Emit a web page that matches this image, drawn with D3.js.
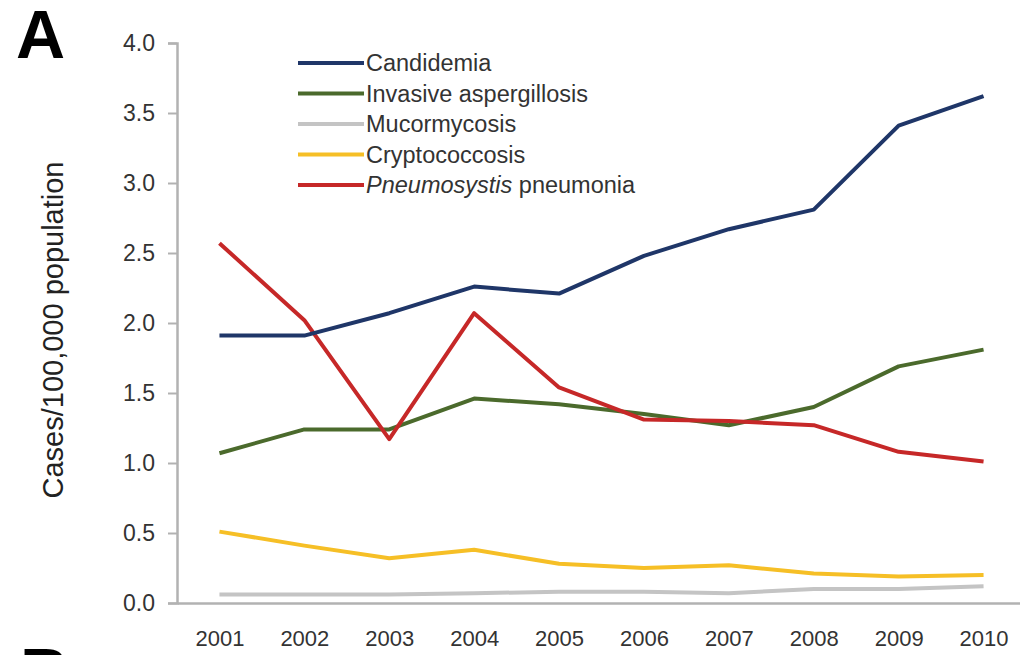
<!DOCTYPE html>
<html>
<head>
<meta charset="utf-8">
<script src="https://cdn.jsdelivr.net/npm/d3@7"></script>
<style>
  html, body { margin: 0; padding: 0; background: #fff; }
  svg { display: block; font-family: "Liberation Sans", Arial, sans-serif; }
</style>
</head>
<body>
<svg id="chart" width="1020" height="655"></svg>
<script>
// Annual incidence of fungal infections, cases per 100,000 population
const years = ["2001", "2002", "2003", "2004", "2005", "2006", "2007", "2008", "2009", "2010"];
const candidemia   = [1.91, 1.91, 2.07, 2.26, 2.21, 2.48, 2.67, 2.81, 3.41, 3.62];
const aspergillosis = [1.07, 1.24, 1.24, 1.46, 1.42, 1.35, 1.27, 1.40, 1.69, 1.81];
const mucormycosis = [0.06, 0.06, 0.06, 0.07, 0.08, 0.08, 0.07, 0.10, 0.10, 0.12];
const cryptococcosis = [0.51, 0.41, 0.32, 0.38, 0.28, 0.25, 0.27, 0.21, 0.19, 0.20];
const pneumocystis = [2.57, 2.02, 1.17, 2.07, 1.54, 1.31, 1.30, 1.27, 1.08, 1.01];
const yTicks = [0, 0.5, 1.0, 1.5, 2.0, 2.5, 3.0, 3.5, 4.0];

const series = [
  { name: "Candidemia", values: candidemia, color: "#1f3668" },
  { name: "Invasive aspergillosis", values: aspergillosis, color: "#4b6a2c" },
  { name: "Mucormycosis", values: mucormycosis, color: "#c4c4c4" },
  { name: "Cryptococcosis", values: cryptococcosis, color: "#f6bf26" },
  { name: "Pneumosystis pneumonia", values: pneumocystis, color: "#c62828", italic: "Pneumosystis" }
];

const svg = d3.select("#chart");
const plotLeft = 177, plotRight = 1026, plotTop = 43, plotBottom = 603;

const x = d3.scalePoint().domain(years).range([plotLeft, plotRight]).padding(0.5);
const y = d3.scaleLinear().domain([0, 4]).range([plotBottom, plotTop]);

const axisColor = "#b2b2b2";
const textColor = "#333";

// Y axis
const yAxis = svg.append("g")
  .attr("transform", `translate(${plotLeft},0)`)
  .call(d3.axisLeft(y).tickValues(yTicks).tickSize(9).tickPadding(13).tickFormat(d3.format(".1f")));
yAxis.select(".domain").attr("stroke", axisColor).attr("stroke-width", 2.5);
yAxis.selectAll(".tick line").attr("stroke", axisColor).attr("stroke-width", 2);
yAxis.selectAll(".tick text")
  .attr("fill", textColor).attr("font-size", 23).attr("font-family", "Liberation Sans, Arial, sans-serif");

// X axis
const xAxis = svg.append("g")
  .attr("transform", `translate(0,${plotBottom})`)
  .call(d3.axisBottom(x).tickSize(0).tickPadding(27));
xAxis.select(".domain").attr("stroke", axisColor).attr("stroke-width", 2.5);
xAxis.selectAll(".tick text")
  .attr("fill", textColor).attr("font-size", 22).attr("font-family", "Liberation Sans, Arial, sans-serif");

// Series lines
const line = d3.line()
  .x((d, i) => x(years[i]))
  .y(d => y(d));

// draw bottom-up so candidemia sits on top
[2, 3, 1, 4, 0].forEach(k => {
  const s = series[k];
  svg.append("path")
    .datum(s.values)
    .attr("fill", "none")
    .attr("stroke", s.color)
    .attr("stroke-width", 4)
    .attr("stroke-linejoin", "round")
    .attr("d", line);
});

// Legend
const legend = svg.append("g");
series.forEach((s, i) => {
  const ly = 63 + i * 30.5;
  legend.append("line")
    .attr("x1", 298).attr("x2", 364)
    .attr("y1", ly).attr("y2", ly)
    .attr("stroke", s.color).attr("stroke-width", 4);
  const t = legend.append("text")
    .attr("x", 366).attr("y", ly + 8)
    .attr("font-size", 23.5)
    .attr("fill", textColor);
  if (s.italic) {
    t.append("tspan").attr("font-style", "italic").text(s.italic);
    t.append("tspan").text(s.name.slice(s.italic.length));
  } else {
    t.text(s.name);
  }
});

// Y axis title
svg.append("text")
  .attr("transform", "translate(63,330) rotate(-90)")
  .attr("text-anchor", "middle")
  .attr("font-size", 29)
  .attr("fill", "#222")
  .text("Cases/100,000 population");

// Panel letters
svg.append("text")
  .attr("x", 16).attr("y", 58)
  .attr("font-size", 68).attr("font-weight", "bold")
  .attr("font-family", "Liberation Sans, Arial, sans-serif")
  .attr("fill", "#000")
  .text("A");
svg.append("text")
  .attr("x", 20).attr("y", 696)
  .attr("font-size", 68).attr("font-weight", "bold")
  .attr("font-family", "Liberation Sans, Arial, sans-serif")
  .attr("fill", "#000")
  .text("B");
</script>
</body>
</html>
